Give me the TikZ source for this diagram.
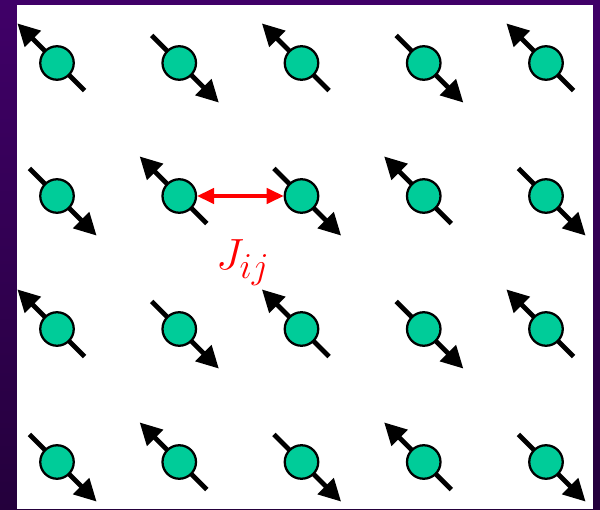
\documentclass[tikz,border=0pt]{standalone}
\usepackage{amsmath}
\usepackage{xcolor}
\usepackage{tikz}
\usetikzlibrary{arrows.meta,positioning}
\definecolor{spingreen}{RGB}{0,204,153}
\definecolor{couplingred}{RGB}{255,0,0}
\definecolor{frametop}{RGB}{64,0,104}
\definecolor{framebottom}{RGB}{36,0,60}
\tikzset{
	spin/.style={
		circle,
		draw=black,
		line width=1.3pt,
		fill=spingreen,
		minimum size=6.7mm,
		inner sep=0pt
	},
	stick/.style={
		-{Triangle[length=4.4mm,width=4.4mm]},
		line width=2.7pt,
		black
	},
	coupling/.style={
		{Triangle[length=3.4mm,width=3.1mm]}-{Triangle[length=3.4mm,width=3.1mm]},
		line width=1.8pt,
		couplingred
	}
}
\begin{document}
\begin{tikzpicture}[x=2.445cm,y=2.66cm]
	
	% Frame
	\useasboundingbox[top color=frametop,bottom color=framebottom]
	(-1.14cm,-0.94cm) rectangle (10.86cm,9.24cm);
	\fill[white] (-0.80cm,-0.94cm) rectangle (10.72cm,9.14cm);
	
	% Spins on the lattice
	\foreach \i in {0,...,4}
	\foreach \j in {0,...,3}{
		\pgfmathsetmacro{\a}{ifthenelse(mod(\i+\j,2)==1,135,-45)}
		\draw[stick] (\i,\j) ++(\a+180:0.78cm) -- ++(\a:1.9cm);
		\node[spin] (s\i\j) at (\i,\j) {};
	}
	
	% Coupling between neighbours
	\draw[coupling] (s12.east) -- (s22.west);
	\node[text=couplingred,font=\Huge] (jij) at (1.52,1.5) {\(J_{ij}\)};
	
\end{tikzpicture}
\end{document}
